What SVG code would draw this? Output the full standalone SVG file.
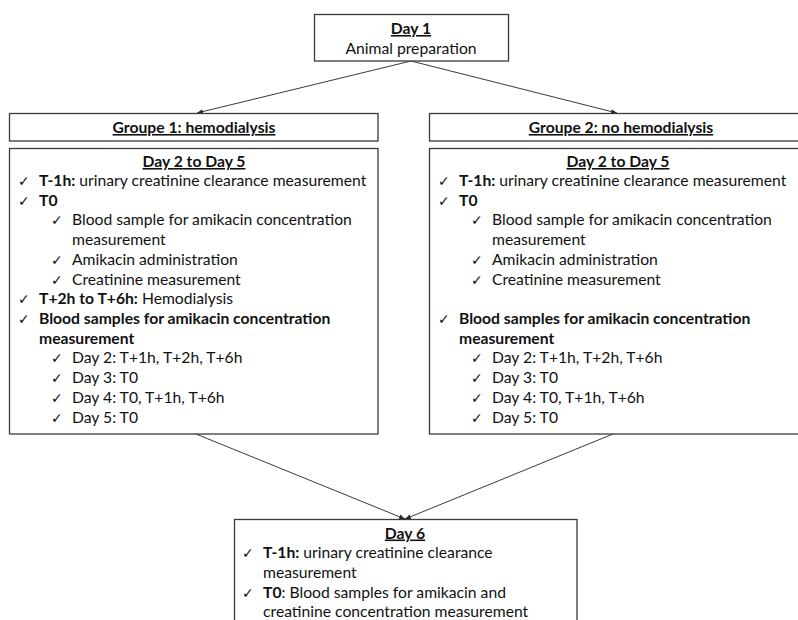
<svg xmlns="http://www.w3.org/2000/svg" width="798" height="620" viewBox="0 0 798 620">
<style>
text{font-family:Lato,"Open Sans","Liberation Sans",sans-serif;font-size:15.7px;fill:#111}
.b{font-weight:bold}
.u{text-decoration:underline;font-weight:bold}
.c{text-anchor:middle}
.ck{font-family:"DejaVu Sans",sans-serif;font-size:14px}
.box{fill:#fff;stroke:#3a3a3a;stroke-width:1.3}
.ln{stroke:#3a3a3a;stroke-width:1;fill:none;marker-end:url(#ah)}
</style>
<defs>
<marker id="ah" viewBox="0 0 10 10" refX="10" refY="5" markerWidth="6" markerHeight="6" orient="auto" markerUnits="userSpaceOnUse">
<path d="M0,1 L10,5 L0,9 z" fill="#2a2a2a"/>
</marker>
</defs>
<rect width="798" height="620" fill="#fff"/>
<g id="connectors">
<line class="ln" x1="411" y1="61" x2="197" y2="113"/>
<line class="ln" x1="411" y1="61" x2="617" y2="113"/>
<line class="ln" x1="196" y1="434" x2="405" y2="519"/>
<line class="ln" x1="613" y1="434" x2="405" y2="519"/>
</g>
<g id="day1">
<rect class="box" x="314.5" y="14.5" width="194" height="46.5"/>
<text class="u c" x="411" y="34">Day 1</text>
<text class="c" x="411" y="54">Animal preparation</text>
</g>
<g id="group1">
<rect class="box" x="9.5" y="113.5" width="368.5" height="27.5"/>
<text class="u c" x="194" y="133">Groupe 1: hemodialysis</text>
</g>
<g id="group2">
<rect class="box" x="429.5" y="113.5" width="376" height="27.5"/>
<text class="u c" x="621" y="133">Groupe 2: no hemodialysis</text>
</g>
<g id="g1days">
<rect class="box" x="9.5" y="148.5" width="368.5" height="285.5"/>
<text class="u c" x="194" y="167">Day 2 to Day 5</text>
<text class="ck" x="18" y="186">✓</text><text x="39" y="186"><tspan class="b">T-1h:</tspan> urinary creatinine clearance measurement</text>
<text class="ck" x="18" y="205.5">✓</text><text class="b" x="39" y="205.5">T0</text>
<text class="ck" x="51" y="225">✓</text><text x="72" y="225">Blood sample for amikacin concentration</text>
<text x="72" y="245">measurement</text>
<text class="ck" x="51" y="264.5">✓</text><text x="72" y="264.5">Amikacin administration</text>
<text class="ck" x="51" y="284.5">✓</text><text x="72" y="284.5">Creatinine measurement</text>
<text class="ck" x="18" y="304">✓</text><text x="39" y="304"><tspan class="b">T+2h to T+6h:</tspan> Hemodialysis</text>
<text class="ck" x="18" y="324">✓</text><text class="b" x="39" y="324">Blood samples for amikacin concentration</text>
<text class="b" x="39" y="343.5">measurement</text>
<text class="ck" x="51" y="363">✓</text><text x="72" y="363">Day 2: T+1h, T+2h, T+6h</text>
<text class="ck" x="51" y="383">✓</text><text x="72" y="383">Day 3: T0</text>
<text class="ck" x="51" y="403">✓</text><text x="72" y="403">Day 4: T0, T+1h, T+6h</text>
<text class="ck" x="51" y="423">✓</text><text x="72" y="423">Day 5: T0</text>
</g>
<g id="g2days">
<rect class="box" x="429.5" y="148.5" width="376" height="285.5"/>
<text class="u c" x="618" y="167">Day 2 to Day 5</text>
<text class="ck" x="438" y="186">✓</text><text x="459" y="186"><tspan class="b">T-1h:</tspan> urinary creatinine clearance measurement</text>
<text class="ck" x="438" y="205.5">✓</text><text class="b" x="459" y="205.5">T0</text>
<text class="ck" x="471" y="225">✓</text><text x="492" y="225">Blood sample for amikacin concentration</text>
<text x="492" y="245">measurement</text>
<text class="ck" x="471" y="264.5">✓</text><text x="492" y="264.5">Amikacin administration</text>
<text class="ck" x="471" y="284.5">✓</text><text x="492" y="284.5">Creatinine measurement</text>
<text class="ck" x="438" y="324">✓</text><text class="b" x="459" y="324">Blood samples for amikacin concentration</text>
<text class="b" x="459" y="343.5">measurement</text>
<text class="ck" x="471" y="363">✓</text><text x="492" y="363">Day 2: T+1h, T+2h, T+6h</text>
<text class="ck" x="471" y="383">✓</text><text x="492" y="383">Day 3: T0</text>
<text class="ck" x="471" y="403">✓</text><text x="492" y="403">Day 4: T0, T+1h, T+6h</text>
<text class="ck" x="471" y="423">✓</text><text x="492" y="423">Day 5: T0</text>
</g>
<g id="day6">
<rect class="box" x="234.5" y="519.5" width="342.5" height="110"/>
<text class="u c" x="405" y="538.5">Day 6</text>
<text class="ck" x="242" y="558">✓</text><text x="263" y="558"><tspan class="b">T-1h:</tspan> urinary creatinine clearance</text>
<text x="263" y="578">measurement</text>
<text class="ck" x="242" y="597.5">✓</text><text x="263" y="597.5"><tspan class="b">T0</tspan>: Blood samples for amikacin and</text>
<text x="263" y="617">creatinine concentration measurement</text>
</g>
</svg>
